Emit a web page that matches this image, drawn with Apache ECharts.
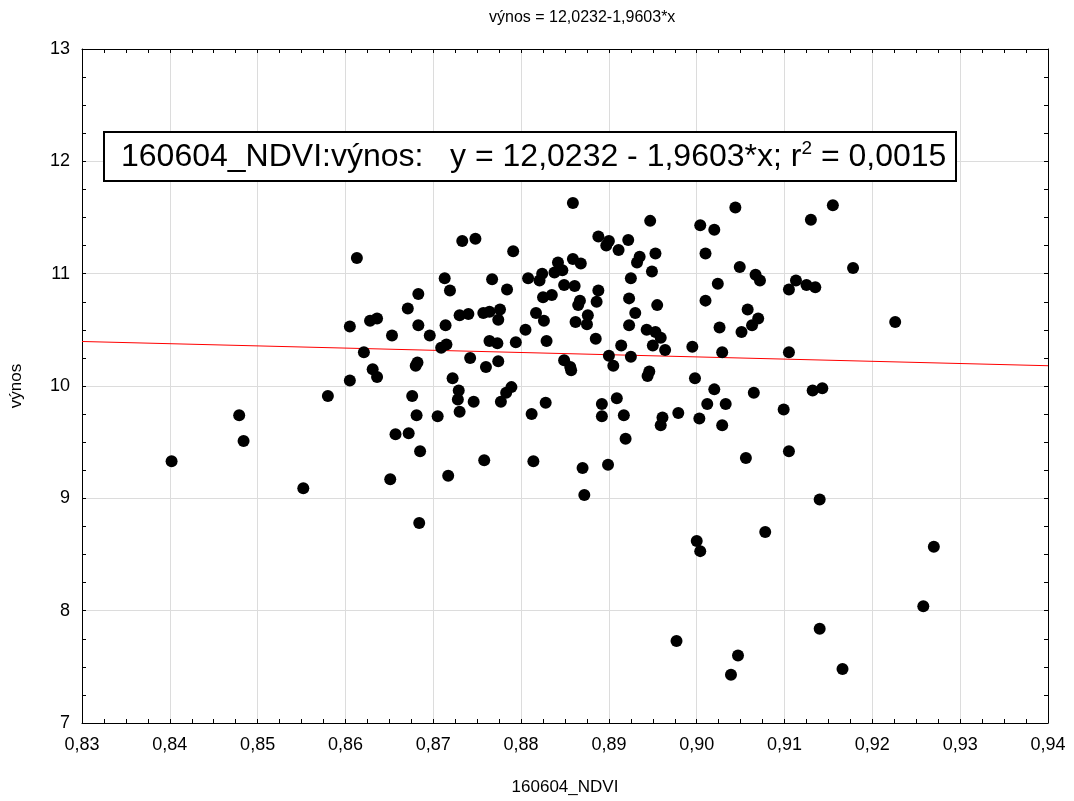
<!DOCTYPE html>
<html>
<head>
<meta charset="utf-8">
<title>výnos vs 160604_NDVI</title>
<script src="https://cdn.jsdelivr.net/npm/echarts@6/dist/echarts.min.js"></script>
<style>
  html, body { margin: 0; padding: 0; background: #fff; }
  #chart { width: 1074px; height: 801px; }
</style>
</head>
<body>
<div id="chart"></div>
<script>
// NDVI hodnoty (osa x)
var ndvi = [
  0.8613, 0.8683, 0.8671, 0.8628, 0.8636, 0.8605, 0.8683, 0.8653, 0.8621, 0.8682,
  0.8680, 0.8631, 0.8636, 0.8605, 0.8580, 0.8676, 0.8479, 0.8681, 0.8484, 0.8402,
  0.8657, 0.8672, 0.8685, 0.8651, 0.8552, 0.8684,
  0.8859, 0.9044, 0.8947, 0.9004, 0.9020, 0.8733, 0.8748, 0.8888, 0.8900, 0.8897,
  0.8922, 0.8911, 0.8791, 0.8953, 0.9010, 0.8935, 0.8932, 0.8842, 0.8859, 0.8868,
  0.9049, 0.8949, 0.8838, 0.8847, 0.8824, 0.8821, 0.8808, 0.8713, 0.8767, 0.8925,
  0.8849, 0.8861, 0.9024, 0.8719, 0.8784, 0.8888, 0.8886, 0.8825, 0.8835, 0.8923,
  0.9010, 0.8867, 0.8865, 0.8955, 0.8757, 0.8764, 0.8776, 0.8774, 0.8730, 0.8740,
  0.8817, 0.8826, 0.8876, 0.8875, 0.8930, 0.8862, 0.8714, 0.8923, 0.9026, 0.9051,
  0.8943, 0.8953, 0.8959, 0.8950, 0.8696, 0.8805, 0.8764, 0.8773, 0.8794, 0.8829,
  0.8885, 0.8914, 0.8709, 0.8715, 0.8964, 0.8995, 0.9029, 0.8900, 0.8905, 0.8925,
  0.8742, 0.8849, 0.8856, 0.8857, 0.8774, 0.8760, 0.8946, 0.8944, 0.8722, 0.8998,
  0.8729, 0.8728, 0.8789, 0.8783, 0.8777, 0.8746, 0.8828, 0.8909, 0.8892, 0.9020,
  0.9012, 0.9033,
  0.8705, 0.8730, 0.8812, 0.8892, 0.8917, 0.8961, 0.8959, 0.8979, 0.9003, 0.9029,
  0.8919, 0.8717, 0.8758, 0.8814, 0.8870, 0.8899, 0.8872, 0.9000, 0.9004, 0.8977,
  0.9047, 0.9039,
  0.9155, 0.9130, 0.9067, 0.9072, 0.9113, 0.9105, 0.9125, 0.9135, 0.9178, 0.9058,
  0.9070, 0.9063, 0.9226, 0.9105, 0.9132, 0.9143, 0.9065, 0.9099, 0.9056, 0.9105,
  0.9140, 0.9078, 0.9270, 0.9258, 0.9140, 0.9166
];
// výnos (osa y), stejné pořadí jako ndvi
var vynos = [
  11.14, 10.82, 10.69, 10.58, 10.60, 10.53, 10.54, 10.45, 10.30, 10.21,
  10.18, 10.15, 10.08, 10.05, 9.91, 9.91, 9.74, 9.74, 9.51, 9.33,
  9.57, 9.58, 9.42, 9.17, 9.09, 8.78,
  11.63, 11.59, 11.47, 11.43, 11.39, 11.29, 11.31, 11.33, 11.29, 11.25,
  11.30, 11.21, 11.20, 11.18, 11.18, 11.15, 11.10, 11.10, 11.13, 11.09,
  11.06, 11.02, 11.01, 11.03, 11.00, 10.94, 10.96, 10.96, 10.95, 10.96,
  10.90, 10.89, 10.91, 10.85, 10.86, 10.85, 10.75, 10.79, 10.81, 10.78,
  10.76, 10.76, 10.72, 10.72, 10.65, 10.66, 10.68, 10.59, 10.63, 10.64,
  10.65, 10.58, 10.63, 10.55, 10.65, 10.57, 10.54, 10.54, 10.52, 10.48,
  10.50, 10.48, 10.43, 10.36, 10.45, 10.50, 10.40, 10.38, 10.39, 10.40,
  10.42, 10.36, 10.34, 10.37, 10.32, 10.35, 10.30, 10.27, 10.18, 10.26,
  10.25, 10.23, 10.17, 10.14, 10.22, 10.17, 10.13, 10.09, 10.07, 10.07,
  9.96, 9.88, 9.99, 9.94, 9.86, 9.86, 9.85, 9.89, 9.84, 9.97,
  9.84, 9.84,
  9.73, 9.77, 9.75, 9.73, 9.74, 9.72, 9.65, 9.76, 9.71, 9.65,
  9.53, 9.20, 9.34, 9.33, 9.27, 9.30, 9.03, 8.62, 8.53, 7.73,
  7.60, 7.43,
  11.61, 11.48, 10.99, 10.94, 10.94, 10.86, 10.90, 10.88, 11.05, 10.68,
  10.60, 10.54, 10.57, 10.30, 9.96, 9.98, 9.94, 9.79, 9.36, 9.42,
  8.99, 8.70, 8.57, 8.04, 7.84, 7.48
];
// regresní přímka, koncové body v rozsahu osy x
var fitX = [0.83, 0.94];
var fitY = [10.3962, 10.1805];

var titleText = 'výnos = 12,0232-1,9603*x';
var xName = '160604_NDVI';
var yName = 'výnos';

var font = '"Liberation Sans", Arial, sans-serif';

var points = [];
for (var i = 0; i < ndvi.length; i++) {
  points.push([ndvi[i], vynos[i]]);
}
var fitLine = [[fitX[0], fitY[0]], [fitX[1], fitY[1]]];

function comma(v, d) {
  return v.toFixed(d).replace('.', ',');
}

// společné nastavení rámečku (ticky dovnitř)
var frameLine = { show: true, lineStyle: { color: '#000', width: 1 } };
var tickIn = { show: true, inside: true, length: 4, lineStyle: { color: '#000' } };
var minorIn = { show: true, splitNumber: 4, length: 4, lineStyle: { color: '#000' } };

var chart = echarts.init(document.getElementById('chart'));

var option = {
  backgroundColor: '#fff',
  animation: false,
  grid: {
    left: 82, right: 26, top: 49, bottom: 78,
    outerBoundsMode: 'none'
  },
  xAxis: [{
    type: 'value',
    min: 0.83, max: 0.94, interval: 0.01,
    name: xName,
    nameLocation: 'middle',
    nameGap: 56,
    nameTextStyle: { fontFamily: font, fontSize: 17, color: '#000' },
    axisLine: frameLine,
    axisTick: tickIn,
    minorTick: minorIn,
    axisLabel: {
      fontFamily: font, fontSize: 18, color: '#000', margin: 13,
      showMinLabel: true, showMaxLabel: true,
      formatter: function (v) { return comma(v, 2); }
    },
    splitLine: { show: true, lineStyle: { color: '#dcdcdc', width: 1 } }
  }, {
    type: 'value', position: 'top',
    min: 0.83, max: 0.94, interval: 0.01,
    axisLine: frameLine,
    axisTick: tickIn,
    minorTick: minorIn,
    axisLabel: { show: false },
    splitLine: { show: false }
  }],
  yAxis: [{
    type: 'value',
    min: 7, max: 13, interval: 1,
    name: yName,
    nameLocation: 'middle',
    nameGap: 57,
    nameRotate: 90,
    nameTextStyle: { fontFamily: font, fontSize: 17, color: '#000' },
    axisLine: frameLine,
    axisTick: tickIn,
    minorTick: minorIn,
    axisLabel: { fontFamily: font, fontSize: 18, color: '#000', margin: 12 },
    splitLine: { show: true, lineStyle: { color: '#dcdcdc', width: 1 } }
  }, {
    type: 'value', position: 'right',
    min: 7, max: 13, interval: 1,
    axisLine: frameLine,
    axisTick: tickIn,
    minorTick: minorIn,
    axisLabel: { show: false },
    splitLine: { show: false }
  }],
  series: [{
    name: 'fit',
    type: 'line',
    data: fitLine,
    symbol: 'none',
    lineStyle: { color: '#ff0000', width: 1 },
    z: 2
  }, {
    name: yName,
    type: 'scatter',
    data: points,
    symbol: 'circle',
    symbolSize: 12,
    itemStyle: { color: '#000', opacity: 1 },
    z: 3
  }],
  graphic: [{
    type: 'text',
    left: 489, top: 10,
    style: { text: titleText, font: '16px ' + font, fill: '#000' }
  }, {
    type: 'rect',
    shape: { x: 104, y: 132, width: 852, height: 49 },
    style: { fill: '#fff', stroke: '#000', lineWidth: 2 },
    z: 10
  }, {
    type: 'text',
    x: 121, y: 157,
    z: 11,
    style: {
      text: '{a|160604_NDVI:výnos:   y = 12,0232 - 1,9603*x; r}{s|2}{a| = 0,0015}',
      verticalAlign: 'middle',
      rich: {
        a: { fontFamily: font, fontSize: 32, lineHeight: 36, fill: '#000' },
        s: { fontFamily: font, fontSize: 19, lineHeight: 22, verticalAlign: 'top', fill: '#000' }
      }
    }
  }]
};

chart.setOption(option);
</script>
</body>
</html>
